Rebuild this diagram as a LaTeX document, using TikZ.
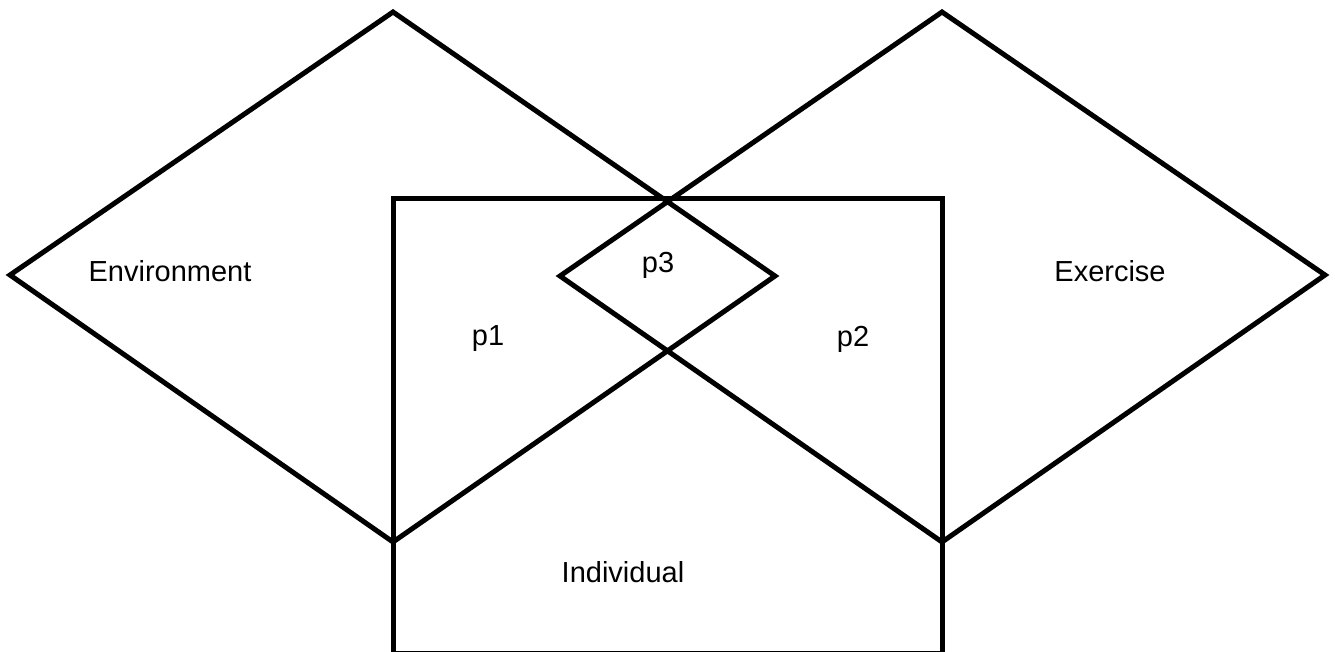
\documentclass[tikz,border=0pt]{standalone}
\usepackage{fontspec}
\setmainfont{Liberation Sans}
\begin{document}
\begin{tikzpicture}[x=1pt,y=-1pt,
  outline/.style={draw=black,line width=5pt,line join=miter},
  lbl/.style={font=\fontsize{29}{35}\selectfont,inner sep=0pt,anchor=center}]
\useasboundingbox (0,0) rectangle (1335,651);
\clip (0,0) rectangle (1335,651);
\coordinate (LT) at (393,12);
\coordinate (LL) at (10,275);
\coordinate (LB) at (393,542);
\coordinate (LR) at (775,276);
\coordinate (RT) at (942,12);
\coordinate (RL) at (560,276);
\coordinate (RB) at (942,542);
\coordinate (RR) at (1325,275);
\draw[outline] (LT) -- (LR) -- (LB) -- (LL) -- cycle;
\draw[outline] (RT) -- (RR) -- (RB) -- (RL) -- cycle;
\draw[outline] (393,198) rectangle (942,653);
\node[lbl] (env) at (170,271) {Environment};
\node[lbl] (exe) at (1110,271) {Exercise};
\node[lbl] (p1) at (488,339) {p1};
\node[lbl] (p2) at (853,339) {p2};
\node[lbl] (p3) at (658,265) {p3};
\node[lbl] (ind) at (623,572) {Individual};
\end{tikzpicture}
\end{document}
